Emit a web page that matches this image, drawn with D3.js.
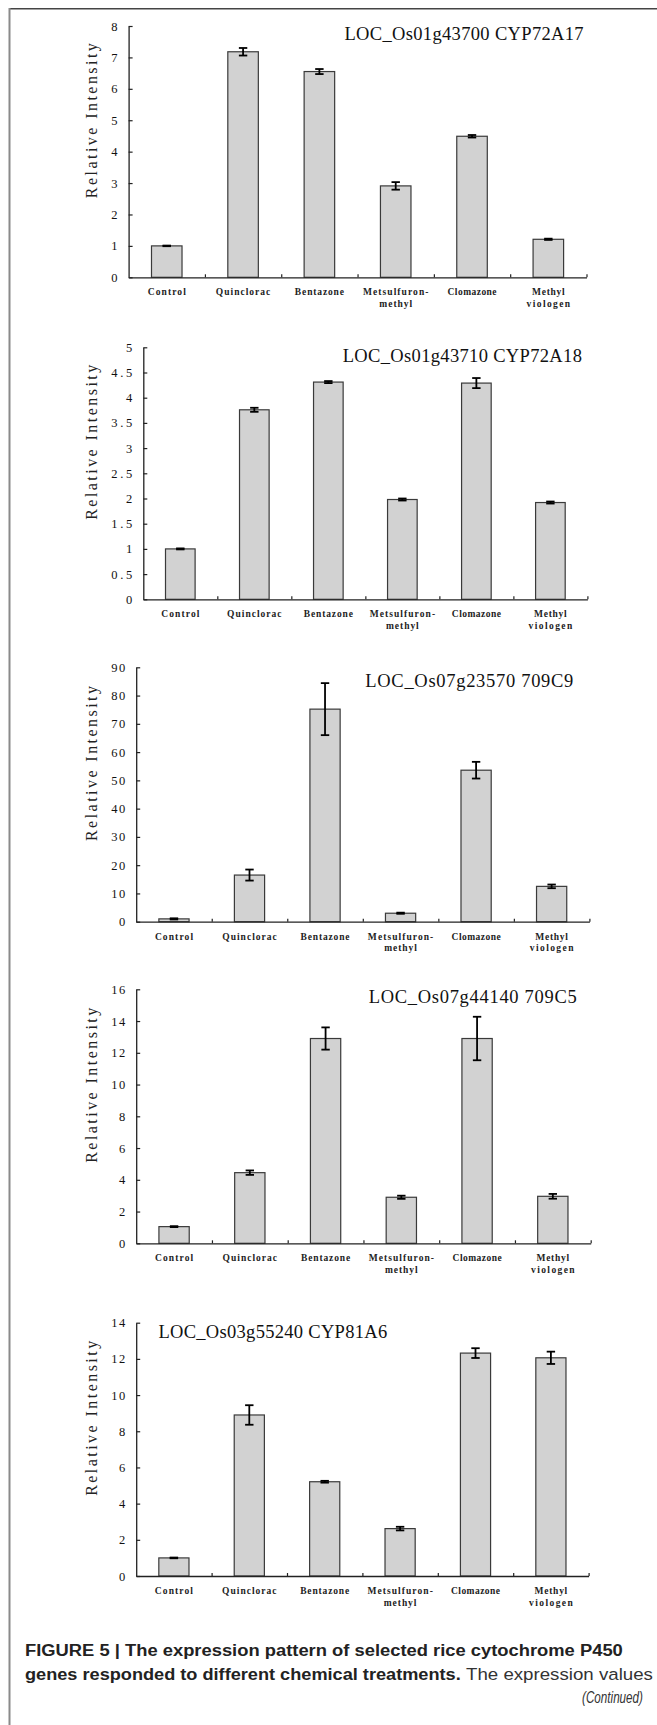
<!DOCTYPE html>
<html>
<head>
<meta charset="utf-8">
<script src="https://cdn.jsdelivr.net/npm/d3@7"></script>
<style>
  html, body { margin: 0; padding: 0; background: #fff; }
  svg { display: block; }
</style>
</head>
<body>
<svg id="chart" width="657" height="1725"></svg>
<script>
// ---------- DATA ----------
const categories = ["Control", "Quinclorac", "Bentazone", "Metsulfuron-\nmethyl", "Clomazone", "Methyl\nviologen"];
const titles = ["LOC_Os01g43700 CYP72A17", "LOC_Os01g43710 CYP72A18", "LOC_Os07g23570 709C9", "LOC_Os07g44140 709C5", "LOC_Os03g55240 CYP81A6"];

const values1 = [1.00, 7.18, 6.55, 2.91, 4.49, 1.21];
const errors1 = [0.01, 0.12, 0.08, 0.12, 0.04, 0.02];
const values2 = [1.00, 3.76, 4.31, 1.98, 4.29, 1.92];
const errors2 = [0.01, 0.04, 0.02, 0.02, 0.10, 0.02];
const values3 = [1.0, 16.5, 75.2, 3.0, 53.6, 12.5];
const errors3 = [0.2, 1.95, 9.2, 0.2, 2.95, 0.65];
const values4 = [1.05, 4.45, 12.9, 2.90, 12.9, 2.96];
const errors4 = [0.03, 0.14, 0.70, 0.10, 1.37, 0.15];
const values5 = [1.00, 8.90, 5.21, 2.62, 12.32, 12.06];
const errors5 = [0.02, 0.54, 0.05, 0.10, 0.27, 0.34];

const ticks1 = [0, 1, 2, 3, 4, 5, 6, 7, 8];
const ticks2 = [0, 0.5, 1, 1.5, 2, 2.5, 3, 3.5, 4, 4.5, 5];
const ticks3 = [0, 10, 20, 30, 40, 50, 60, 70, 80, 90];
const ticks4 = [0, 2, 4, 6, 8, 10, 12, 14, 16];
const ticks5 = [0, 2, 4, 6, 8, 10, 12, 14];

const yLabel = "Relative Intensity";
const captionBold1 = "FIGURE 5 | The expression pattern of selected rice cytochrome P450";
const captionBold2 = "genes responded to different chemical treatments.";
const captionRegular2 = "The expression values";
const captionCont = "(Continued)";

// ---------- LAYOUT ----------
const panels = [
  { values: values1, errors: errors1, ticks: ticks1, title: titles[0], x0: 128.6, x1: 586.5, yTop: 26.0,   yBot: 277.3,  tx: 344.4, ty: 40.0 },
  { values: values2, errors: errors2, ticks: ticks2, title: titles[1], x0: 143.3, x1: 587.4, yTop: 347.3,  yBot: 599.3,  tx: 342.7, ty: 362.3 },
  { values: values3, errors: errors3, ticks: ticks3, title: titles[2], x0: 136.2, x1: 589.4, yTop: 667.3,  yBot: 921.7,  tx: 365.3, ty: 687.3 },
  { values: values4, errors: errors4, ticks: ticks4, title: titles[3], x0: 136.2, x1: 590.7, yTop: 989.3,  yBot: 1243.3, tx: 368.7, ty: 1003.3 },
  { values: values5, errors: errors5, ticks: ticks5, title: titles[4], x0: 136.2, x1: 588.6, yTop: 1322.7, yBot: 1576.0, tx: 158.4, ty: 1338.3 }
];

const svg = d3.select("#chart");

// frame lines
svg.append("line").attr("x1", 9).attr("x2", 657).attr("y1", 8.7).attr("y2", 8.7)
  .attr("stroke", "#444").attr("stroke-width", 1.5);
svg.append("line").attr("x1", 9.5).attr("x2", 9.5).attr("y1", 8).attr("y2", 1725)
  .attr("stroke", "#8a8a8a").attr("stroke-width", 2);

const serif = "'Liberation Serif', 'Times New Roman', serif";

panels.forEach(p => {
  const g = svg.append("g");
  const x = d3.scaleBand().domain(categories).range([p.x0, p.x1]).padding(0);
  const y = d3.scaleLinear().domain([0, d3.max(p.ticks)]).range([p.yBot, p.yTop]);
  const bw = x.bandwidth() * 0.4;

  // bars
  g.selectAll("rect.bar").data(categories).join("rect")
    .attr("class", "bar")
    .attr("x", d => x(d) + (x.bandwidth() - bw) / 2)
    .attr("y", (d, i) => y(p.values[i]))
    .attr("width", bw)
    .attr("height", (d, i) => y(0) - y(p.values[i]))
    .attr("fill", "#d2d2d2")
    .attr("stroke", "#3a3a3a")
    .attr("stroke-width", 1.2);

  // error bars
  const eb = g.selectAll("g.err").data(categories).join("g").attr("class", "err")
    .attr("stroke", "#000").attr("stroke-width", 1.8);
  eb.append("line")
    .attr("x1", d => x(d) + x.bandwidth() / 2).attr("x2", d => x(d) + x.bandwidth() / 2)
    .attr("y1", (d, i) => y(p.values[i] + p.errors[i]))
    .attr("y2", (d, i) => y(p.values[i] - p.errors[i]));
  [1, -1].forEach(s => {
    eb.append("line")
      .attr("x1", d => x(d) + x.bandwidth() / 2 - 4.2).attr("x2", d => x(d) + x.bandwidth() / 2 + 4.2)
      .attr("y1", (d, i) => y(p.values[i] + s * p.errors[i]))
      .attr("y2", (d, i) => y(p.values[i] + s * p.errors[i]));
  });

  // y axis
  const yAxis = g.append("g").attr("transform", `translate(${p.x0},0)`)
    .call(d3.axisLeft(y).tickValues(p.ticks).tickSizeInner(-4).tickSizeOuter(0).tickPadding(11)
      .tickFormat(d => String(d)));
  yAxis.select(".domain").attr("stroke", "#222").attr("stroke-width", 1.3);
  yAxis.selectAll(".tick line").attr("stroke", "#222").attr("stroke-width", 1.2);
  yAxis.selectAll(".tick text")
    .attr("font-family", serif).attr("font-size", 12.5).attr("fill", "#111")
    .attr("textLength", d => String(d).length * 7)
    .attr("lengthAdjust", "spacing");

  // x axis (boundary ticks)
  const xb = d3.scaleLinear().domain([0, categories.length]).range([p.x0, p.x1]);
  const xAxis = g.append("g").attr("transform", `translate(0,${p.yBot})`)
    .call(d3.axisBottom(xb).tickValues(d3.range(1, categories.length + 1)).tickSizeInner(-3).tickSizeOuter(0).tickFormat(""));
  xAxis.select(".domain").attr("stroke", "#222").attr("stroke-width", 1.3);
  xAxis.selectAll(".tick line").attr("stroke", "#222").attr("stroke-width", 1.2);

  // category labels
  categories.forEach(c => {
    const lines = c.split("\n");
    lines.forEach((ln, k) => {
      g.append("text")
        .attr("x", x(c) + x.bandwidth() / 2)
        .attr("y", p.yBot + 18 + k * 11.6)
        .attr("text-anchor", "middle")
        .attr("font-family", serif).attr("font-size", 9.5).attr("font-weight", "bold")
        .attr("fill", "#222")
        .attr("textLength", ln.length * 5.45).attr("lengthAdjust", "spacing")
        .text(ln);
    });
  });

  // y label
  const cy = (p.yTop + p.yBot) / 2 - 31;
  g.append("text")
    .attr("transform", `translate(97,${cy}) rotate(-90)`)
    .attr("text-anchor", "middle")
    .attr("font-family", serif).attr("font-size", 16).attr("fill", "#222")
    .attr("textLength", 155).attr("lengthAdjust", "spacing")
    .text(yLabel);

  // title
  g.append("text")
    .attr("x", p.tx).attr("y", p.ty)
    .attr("font-family", serif).attr("font-size", 18.5).attr("fill", "#111")
    .attr("textLength", p.title.length * 10.4).attr("lengthAdjust", "spacing")
    .text(p.title);
});

// caption: condensed by horizontal scaling to the target width
const sans = "'Liberation Sans', Arial, Helvetica, sans-serif";
function caption(txt, x0, y0, width, opts) {
  const g = svg.append("g");
  const t = g.append("text").attr("x", 0).attr("y", 0)
    .attr("font-family", sans).attr("font-size", 17)
    .attr("font-weight", opts.bold ? "bold" : "normal")
    .attr("font-style", opts.italic ? "italic" : "normal")
    .attr("fill", opts.fill)
    .text(txt);
  const w = t.node().getComputedTextLength();
  g.attr("transform", `translate(${x0},${y0}) scale(${width / w},1)`);
}
caption(captionBold1, 25, 1656, 598, { bold: true, fill: "#222" });
caption(captionBold2, 25, 1680, 436, { bold: true, fill: "#222" });
caption(captionRegular2, 466, 1680, 187, { fill: "#333" });
caption(captionCont, 582, 1703, 61, { italic: true, fill: "#333" });
</script>
</body>
</html>
